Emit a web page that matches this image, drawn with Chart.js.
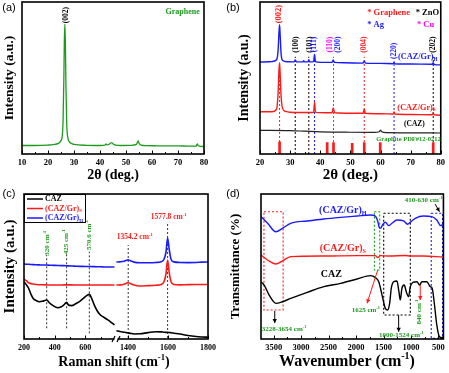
<!DOCTYPE html>
<html><head><meta charset="utf-8">
<script src="https://cdn.jsdelivr.net/npm/chart.js@4.4.1/dist/chart.umd.min.js"></script>
<style>
html,body{margin:0;padding:0;background:#fff;}
body{width:449px;height:373px;position:relative;overflow:hidden;}
canvas{position:absolute;}
</style></head><body>
<canvas id="pa" width="224" height="186" style="left:0;top:0"></canvas>
<canvas id="pb" width="225" height="186" style="left:224px;top:0"></canvas>
<canvas id="pc" width="224" height="187" style="left:0;top:186px"></canvas>
<canvas id="pd" width="225" height="187" style="left:224px;top:186px"></canvas>
<script>
const SERIF='"Liberation Serif","Times New Roman",serif';
const SANS='"Liberation Sans",Arial,sans-serif';
const RED='#ff1a1a', BLUE='#1a1aff', MAG='#ff00ff', GRN='#1c9a1c', BLK='#000000';

// ---------- (a) graphene XRD ----------
const aTheta=[10,15,20,22,24,25,25.5,25.8,26.1,26.3,26.5,26.7,26.9,27.2,27.6,28.2,29,30,35,40,42,42.3,42.7,43.5,44.2,44.6,45.2,46,48,52,54,54.4,54.7,55.1,55.8,58,62,66,70,74,77,77.4,77.8,79,80];
const aIntensity=[5.6,5.6,5.9,6.2,7.0,8.8,12,22,50,76,85.5,72,45,20,11,8,7,6.3,5.7,5.6,5.9,6.6,6.0,6.4,7.3,7.3,6.4,5.9,5.6,5.7,6.3,7.7,8.6,6.8,5.9,5.5,5.4,5.3,5.3,5.2,5.2,6.6,5.4,5.0,4.9];
const aTicks=[10,20,30,40,50,60,70,80];
const aMinor=[15,25,35,45,55,65,75];

// ---------- (b) composites XRD ----------
const bThetaH=[20,24,25.5,26,26.3,26.5,26.7,27,27.5,29,31.3,31.7,32.1,34.3,34.5,34.8,35.9,36.2,36.5,37.8,38.1,38.4,40,43.9,44.3,44.7,48,54.2,54.6,55,60,64.2,64.5,64.8,70,77.2,77.5,77.8,80];
const bIntH=[60.5,60.8,62,68,80,85,78,66,61.5,60.7,60.6,61.8,60.6,60.6,61.3,60.6,60.6,62,60.6,60.8,65.5,60.8,60.3,60.3,61.8,60.3,60,59.8,61.2,59.8,59.6,59.4,60.3,59.4,59.2,59,60,59,58.6];
const bThetaS=[20,24,25.5,26,26.3,26.5,26.7,27,27.5,28.5,30,36,37.8,38.1,38.4,40,43.9,44.3,44.8,50,54.2,54.6,55,60,64.2,64.5,64.8,70,77.2,77.5,77.8,80];
const bIntS=[27.8,27.8,29.5,40,55,60,52,38,30,28,27.5,27.3,27.5,34,27.6,27.2,27.1,30.3,27.1,26.8,26.8,29.4,26.8,26.5,26.3,27.6,26.3,26,25.8,27,25.8,25.5];
const bThetaC=[20,30,35,40,50,58,59.6,60,60.4,62,70,80];
const bIntC=[15.6,15.4,15,14.6,14.3,14.2,14.6,15.8,14.6,14,13.9,13.8];
const bRefPos=[26.5,42.3,44.4,50.6,54.6,59.9,77.5];
const bRefInt=[8,7.5,7.5,7,7.5,7.5,7.5];
const bLinePos=[26.5,31.7,36.2,38.1,44.4,54.6,64.5,77.5];
const bLineTop=[59,64,64,64,64,64,61,64];
const bLineColor=[RED,BLK,BLK,BLUE,MAG,RED,BLUE,BLK];
const bHkl=['(002)','(100)','(101)','(111)','(110)','(200)','(004)','(220)','(202)'];
const bHklColor=[RED,BLK,BLK,BLUE,MAG,BLUE,RED,BLUE,BLK];
const bTicks=[20,30,40,50,60,70,80];
const bMinor=[25,35,45,55,65,75];

// ---------- (c) Raman ----------
const cShiftLow=[200,215,230,245,260,280,300,320,348,365,390,420,440,460,478,490,510,540,570,600,610,626,645,660,680,700,720,740,760,790];
const cCazLow=[39.5,37.5,35,31,28,26.5,25.7,26,26.9,25,23,21.6,22,23.5,25.3,23.4,23,24.5,26.5,29.2,30,30.8,27,23,19,16.4,15,13.6,12.2,9.7];
const cSLow=[41.4,40.2,38.8,38.2,37.9,37.6,37.4,37.4,37.3,37.2,37.2,37.2,37.2,37.3,37.3,37.3,37.3,37.2,37.2,37.2,37.2,37.2,37.2,37.2,37.2,37.2,37.2,37.2,37.2,37.2];
const cHLow=[51.7,51.6,51.5,51.4,51.3,51.2,51.1,51.0,51.0,50.9,50.8,50.7,50.6,50.6,50.5,50.4,50.3,50.2,50.1,50.0,50.0,50.0,49.9,49.9,49.8,49.8,49.7,49.7,49.7,49.7];
const cShiftHigh=[1342,1360,1380,1392,1401,1412,1430,1460,1500,1540,1565,1580,1590,1598,1606,1615,1630,1660,1700,1740,1770,1800];
const cHHigh=[53.1,53.2,53.6,54.3,54.6,54.0,53.0,52.6,52.6,52.8,53.3,55,60,69.7,62,55,53.2,52.8,52.7,52.8,53,53.1];
const cSHigh=[37.2,37.3,37.8,38.5,38.8,38.3,37.2,36.6,36.8,37.1,37.6,39.5,45,54.5,46,39.5,37.6,37.3,37.5,37.6,37.6,37.6];
const cCazHigh=[5.7,5.2,4.7,4.4,4.2,3.9,3.5,3.6,4.4,5,4.9,4.7,4.6,4.6,4.5,4.3,4.0,3.4,2.4,1.7,1.4,1.2];
const cBandLow=[348,478,626], cBandLowTop=[58,59,60.2], cBandLowBot=[7.4,7.4,3.9];
const cBandHigh=[1401,1598], cBandHighTop=[64.8,79.8], cBandHighBot=[0.7,0.7];
const cLegend=['CAZ','(CAZ/Gr)_{S}','(CAZ/Gr)_{H}'];
const cTicksLow=[200,400,600], cMinorLow=[300,500,700];
const cTicksHigh=[1400,1600,1800], cMinorHigh=[1500,1700];

// ---------- (d) FTIR ----------
const dWaveH=[3730,3610,3460,3340,3190,2890,2590,2280,1980,1740,1650,1606,1580,1557,1510,1467,1407,1347,1256,1135,1062,1013,922,772,622,531,459,420];
const dTransH=[84.4,79.8,74,76.3,79.8,81.4,82.8,83.9,84.8,85.5,84.8,81.4,77,76.3,79.1,80.5,78.2,79.8,82.1,81.4,79.1,80.5,83.2,84.8,84.4,82.1,78.2,79.1];
const dWaveS=[3730,3610,3460,3340,3190,2590,1980,1650,1606,1557,1400,1100,1013,772,420];
const dTransS=[57.9,54.5,51.7,53.8,56.8,57.2,57.5,57.5,56.1,57.5,57.2,57.6,57.2,57.2,56.6];
const dWaveC=[3730,3672,3581,3460,3340,3189,2887,2585,2282,1981,1738,1648,1587,1527,1467,1425,1389,1359,1316,1256,1220,1196,1165,1123,1087,1044,1013,965,892,844,802,711,651,615,579,531,483,435,410];
const dTransC=[39.5,37.2,30.3,24.6,25.7,28,32.2,36.1,38.4,41.4,43.7,42.3,39.5,30.3,21.1,20,24.6,35,39.5,40,32.6,26.9,35,37.2,32.6,29.2,36.1,39.1,39.5,37.2,39.5,39.5,36.1,35,25.7,9.7,1.6,0.9,1.6];
const dRegionFrom=[3676,1666,1497,632], dRegionTo=[3327,1570,1013,427];
const dRegionTop=[87.8,87.8,86.7,86.7], dRegionBot=[20,47.6,16.6,0.4];
const dRegionColor=[RED,GRN,BLK,BLUE];
const dTicks=[3500,3000,2500,2000,1500,1000,500];
const dMinor=[3250,2750,2250,1750,1250,750];

// ---------- helpers ----------
function pts(xs,ys){return xs.map((x,i)=>({x:x,y:ys[i]}));}
function curve(label,xs,ys,color,w,axis){
  const d={type:'line',label:label,data:pts(xs,ys),borderColor:color,backgroundColor:color,borderWidth:w,pointRadius:0,fill:false,cubicInterpolationMode:'monotone'};
  if(axis) d.xAxisID=axis; return d;
}
function seg(data,color,w,dash,axis){
  const d={type:'line',data:data,borderColor:color,borderWidth:w,borderDash:dash||[],pointRadius:0,fill:false,tension:0};
  if(axis) d.xAxisID=axis; return d;
}
function parseRich(s){
  const out=[];const re=/([\^_])\{([^}]*)\}/g;let last=0,m;
  while((m=re.exec(s))!==null){
    if(m.index>last) out.push({t:s.slice(last,m.index),m:0});
    out.push({t:m[2],m:m[1]==='^'?1:-1}); last=re.lastIndex;
  }
  if(last<s.length) out.push({t:s.slice(last),m:0});
  return out;
}
function drawRich(ctx,s,x,y,o){
  const size=o.size||8,fam=o.family||SERIF,wt=o.weight||'bold';
  const parts=parseRich(s);
  ctx.save();ctx.translate(x,y);if(o.rot)ctx.rotate(o.rot*Math.PI/180);
  ctx.fillStyle=o.color||BLK;ctx.textBaseline='middle';ctx.textAlign='left';
  let w=0;
  parts.forEach(p=>{ctx.font=wt+' '+(p.m?size*0.62:size)+'px '+fam;p.w=ctx.measureText(p.t).width;w+=p.w;});
  let cx=o.align==='left'?0:(o.align==='right'?-w:-w/2);
  parts.forEach(p=>{ctx.font=wt+' '+(p.m?size*0.62:size)+'px '+fam;ctx.fillText(p.t,cx,p.m===1?-size*0.33:(p.m===-1?size*0.3:0));cx+=p.w;});
  ctx.restore();
}
function arrow(ctx,x0,y0,x1,y1,color){
  ctx.save();ctx.strokeStyle=color;ctx.fillStyle=color;ctx.lineWidth=1;
  ctx.beginPath();ctx.moveTo(x0,y0);ctx.lineTo(x1,y1);ctx.stroke();
  const a=Math.atan2(y1-y0,x1-x0),L=4,W=2.2;
  ctx.beginPath();ctx.moveTo(x1,y1);
  ctx.lineTo(x1-L*Math.cos(a)+W*Math.sin(a),y1-L*Math.sin(a)-W*Math.cos(a));
  ctx.lineTo(x1-L*Math.cos(a)-W*Math.sin(a),y1-L*Math.sin(a)+W*Math.cos(a));
  ctx.closePath();ctx.fill();ctx.restore();
}
function decor(cfg){
  return {id:'decor',afterDatasetsDraw(chart){
    const ctx=chart.ctx,ca=chart.chartArea,ys=chart.scales.y;
    ctx.save();
    ctx.strokeStyle=BLK;ctx.lineWidth=1;
    (cfg.ticks||[]).forEach(t=>{
      const sc=chart.scales[t.axis];ctx.beginPath();
      t.major.forEach(v=>{const px=Math.round(sc.getPixelForValue(v))+0.5;ctx.moveTo(px,ca.bottom);ctx.lineTo(px,ca.bottom-3.5);});
      t.minor.forEach(v=>{const px=Math.round(sc.getPixelForValue(v))+0.5;ctx.moveTo(px,ca.bottom);ctx.lineTo(px,ca.bottom-2);});
      ctx.stroke();
    });
    ctx.lineWidth=1.6;ctx.strokeStyle=BLK;
    ctx.strokeRect(ca.left,ca.top,ca.right-ca.left,ca.bottom-ca.top);
    if(cfg.breakAxis){
      const bx=chart.scales[cfg.breakAxis].right,by=ca.bottom;
      ctx.fillStyle='#fff';ctx.fillRect(bx-1.5,by-2,3,4);
      ctx.lineWidth=1.2;ctx.beginPath();
      ctx.moveTo(bx-4,by+3);ctx.lineTo(bx-1,by-3);
      ctx.moveTo(bx+1,by+3);ctx.lineTo(bx+4,by-3);ctx.stroke();
    }
    (cfg.texts||[]).forEach(t=>{
      const sx=chart.scales[t.xa||'x'];
      const px=t.px!==undefined?t.px:sx.getPixelForValue(t.x);
      const py=t.py!==undefined?t.py:ys.getPixelForValue(t.y);
      drawRich(ctx,t.s,px,py,t);
    });
    (cfg.arrows||[]).forEach(a=>{
      const sx=chart.scales[a.xa||'x'];
      arrow(ctx,sx.getPixelForValue(a.x0),ys.getPixelForValue(a.y0),sx.getPixelForValue(a.x1),ys.getPixelForValue(a.y1),a.color);
    });
    if(cfg.legend){
      const L=cfg.legend,bx=ca.left,by=ca.top;
      ctx.lineWidth=1;ctx.strokeStyle=BLK;ctx.strokeRect(bx+0.5,by+0.5,61,28);
      L.items.forEach((it,i)=>{
        const yy=by+5+i*9.5;
        ctx.strokeStyle=it.color;ctx.lineWidth=1.5;ctx.beginPath();ctx.moveTo(bx+3,yy);ctx.lineTo(bx+19,yy);ctx.stroke();
        drawRich(ctx,it.label,bx+21,yy,{size:8,color:it.color,align:'left'});
      });
    }
    ctx.restore();
  }};
}
function yScale(title,size,pad,width){
  return {type:'linear',min:0,max:100,offset:false,grid:{display:false,drawTicks:false},border:{display:false},ticks:{display:false},
    title:{display:!!title,text:title,color:BLK,font:{family:SERIF,size:size,weight:'bold'},padding:{top:pad,bottom:0}},
    afterFit(s){s.width=width;}};
}
function xScale(o){
  const s={type:'linear',position:'bottom',min:o.min,max:o.max,offset:false,reverse:!!o.reverse,grid:{display:false,drawTicks:false,offset:false},border:{display:false},
    ticks:{color:BLK,font:{family:SERIF,size:o.fs,weight:'bold'},padding:o.tp,maxRotation:0,autoSkip:false,callback:v=>String(v)},
    afterBuildTicks(sc){sc.ticks=o.ticks.map(v=>({value:v}));},
    title:{display:!!o.title,text:o.title||'',color:BLK,font:{family:SERIF,size:o.tfs||14,weight:'bold'},padding:{top:0,bottom:o.tpb||0}},
    afterFit(sc){sc.height=o.h;}};
  if(o.stack){s.stack=o.stack;s.stackWeight=1;}
  return s;
}
function baseOpts(pad,scales){
  return {responsive:false,animation:false,devicePixelRatio:1,events:[],
    layout:{padding:pad},plugins:{legend:{display:false},tooltip:{enabled:false},title:{display:false}},scales:scales};
}
function panelLabel(s){return {s:s,px:9,py:8,size:11,family:SANS,weight:'normal',color:BLK};}

// ---------- chart (a) ----------
new Chart(document.getElementById('pa'),{
  type:'line',
  data:{datasets:[curve('Graphene',aTheta,aIntensity,GRN,1.3)]},
  options:baseOpts({left:0,right:20,top:2,bottom:0},{
    x:xScale({min:10,max:80,ticks:aTicks,fs:8.5,tp:4,h:32,title:'2θ (deg.)',tfs:14,tpb:2.6}),
    y:yScale('Intensity (a.u.)',13.5,1.9,22)}),
  plugins:[decor({ticks:[{axis:'x',major:aTicks,minor:aMinor}],texts:[
    panelLabel('(a)'),
    {s:'(002)',x:26.9,y:91.4,size:7.5,color:BLK,rot:-90},
    {s:'Graphene',x:65.2,y:93.4,size:8,color:GRN,align:'left'}
  ]})]
});

// ---------- chart (b) ----------
const bSets=[
  curve('(CAZ/Gr)H',bThetaH,bIntH,BLUE,1.4),
  curve('(CAZ/Gr)S',bThetaS,bIntS,RED,1.4),
  curve('CAZ',bThetaC,bIntC,'#222',1.2),
  {type:'bar',label:'Graphite PDF#12-0212',data:pts(bRefPos,bRefInt),backgroundColor:RED,borderWidth:0,barThickness:2}
];
bLinePos.forEach((p,i)=>bSets.push(seg([{x:p,y:0},{x:p,y:bLineTop[i]}],bLineColor[i],1,[2,2])));
const bHklX=[26.3,31.9,36.5,38.1,43.4,46.0,54.6,64.5,77.4];
const bHklY=[92,72,72,72,72,72,72,67.8,72];
const bTexts=[panelLabel('(b)')];
bHkl.forEach((h,i)=>bTexts.push({s:h,x:bHklX[i],y:bHklY[i],size:i===0?8.5:7.5,color:bHklColor[i],rot:-90}));
bTexts.push(
  {s:'* Graphene',x:55.6,y:92.8,size:8.5,color:RED,align:'left'},
  {s:'* ZnO',x:71.7,y:92.8,size:8.5,color:BLK,align:'left'},
  {s:'* Ag',x:55.6,y:84.9,size:8.5,color:BLUE,align:'left'},
  {s:'* Cu',x:72.1,y:84.9,size:8.5,color:MAG,align:'left'},
  {s:'(CAZ/Gr)_{H}',x:65.8,y:64,size:8.3,color:BLUE,align:'left'},
  {s:'(CAZ/Gr)_{S}',x:65.6,y:30.6,size:8.3,color:RED,align:'left'},
  {s:'(CAZ)',x:67.8,y:19.9,size:7.5,color:BLK,align:'left'},
  {s:'Graphite PDF#12-0212',x:58.6,y:9.9,size:6.5,color:GRN,align:'left'}
);
new Chart(document.getElementById('pb'),{
  type:'line',
  data:{datasets:bSets},
  options:baseOpts({left:0,right:7,top:2,bottom:0},{
    x:xScale({min:20,max:80,ticks:bTicks,fs:8.5,tp:4,h:32,title:'2θ (deg.)',tfs:15,tpb:2}),
    y:yScale('Intensity (a.u.)',14,11.6,36)}),
  plugins:[decor({ticks:[{axis:'x',major:bTicks,minor:bMinor}],texts:bTexts})]
});

// ---------- chart (c) ----------
const cSets=[
  curve(cLegend[0],cShiftLow,cCazLow,BLK,1.6,'xl'),
  curve(cLegend[1],cShiftLow,cSLow,RED,1.6,'xl'),
  curve(cLegend[2],cShiftLow,cHLow,BLUE,1.6,'xl'),
  curve(cLegend[0],cShiftHigh,cCazHigh,BLK,1.6,'xr'),
  curve(cLegend[1],cShiftHigh,cSHigh,RED,1.6,'xr'),
  curve(cLegend[2],cShiftHigh,cHHigh,BLUE,1.6,'xr')
];
cBandLow.forEach((p,i)=>cSets.push(seg([{x:p,y:cBandLowBot[i]},{x:p,y:cBandLowTop[i]}],'#333',1,[2,2],'xl')));
cBandHigh.forEach((p,i)=>cSets.push(seg([{x:p,y:cBandHighBot[i]},{x:p,y:cBandHighTop[i]}],'#333',1,[2,2],'xr')));
new Chart(document.getElementById('pc'),{
  type:'line',
  data:{datasets:cSets},
  options:baseOpts({left:0,right:16,top:8,bottom:0},{
    xl:xScale({min:200,max:800,ticks:cTicksLow,fs:8,tp:4,h:34,stack:'raman'}),
    xr:xScale({min:1340,max:1800,ticks:cTicksHigh,fs:8,tp:4,h:34,stack:'raman'}),
    y:yScale('Intensity (a.u.)',15,1,24)}),
  plugins:[decor({breakAxis:'xl',
    ticks:[{axis:'xl',major:cTicksLow,minor:cMinorLow},{axis:'xr',major:cTicksHigh,minor:cMinorHigh}],
    legend:{items:[{label:cLegend[0],color:BLK},{label:cLegend[1],color:RED},{label:cLegend[2],color:BLUE}]},
    texts:[panelLabel('(c)'),
      {s:'Raman shift (cm^{-1})',px:114,py:176,size:14,color:BLK},
      {s:'320 cm^{-1}',x:348,y:66,xa:'xl',size:7,color:GRN,rot:-90},
      {s:'425 cm^{-1}',x:478,y:67,xa:'xl',size:7,color:GRN,rot:-90},
      {s:'570.6 cm^{-1}',x:626,y:71.7,xa:'xl',size:7,color:GRN,rot:-90},
      {s:'1354.2 cm^{-1}',x:1434,y:70.1,xa:'xr',size:7.5,color:RED},
      {s:'1577.8 cm^{-1}',x:1603,y:83.9,xa:'xr',size:7.5,color:RED}
    ]})]
});

// ---------- chart (d) ----------
const dSets=[
  curve('(CAZ/Gr)H',dWaveH,dTransH,BLUE,1.4),
  curve('(CAZ/Gr)S',dWaveS,dTransS,RED,1.4),
  curve('CAZ',dWaveC,dTransC,BLK,1.4)
];
dRegionFrom.forEach((f,i)=>{
  const t=dRegionTo[i],a=dRegionTop[i],b=dRegionBot[i];
  dSets.push(seg([{x:f,y:a},{x:t,y:a},{x:t,y:b},{x:f,y:b},{x:f,y:a}],dRegionColor[i],1.1,[2,2]));
});
new Chart(document.getElementById('pd'),{
  type:'line',
  data:{datasets:dSets},
  options:baseOpts({left:0,right:5,top:8,bottom:0},{
    x:xScale({min:410,max:3730,reverse:true,ticks:dTicks,fs:8.5,tp:4,h:34}),
    y:yScale('Transmittance (%)',13,4.2,37)}),
  plugins:[decor({ticks:[{axis:'x',major:dTicks,minor:dMinor}],
    arrows:[
      {x0:3480,y0:19.3,x1:3480,y1:11,color:BLK},
      {x0:1606,y0:47.6,x1:1800,y1:24.6,color:RED},
      {x0:1225,y0:16.6,x1:1225,y1:5,color:BLK},
      {x0:832,y0:37.2,x1:832,y1:26.9,color:RED},
      {x0:560,y0:93,x1:482,y1:87.8,color:BLK}
    ],
    texts:[panelLabel('(d)'),
      {s:'Wavenumber (cm^{-1})',px:123,py:176,size:16,color:BLK},
      {s:'(CAZ/Gr)_{H}',x:2240,y:89,size:10,color:BLUE},
      {s:'(CAZ/Gr)_{S}',x:2240,y:62.8,size:10,color:RED},
      {s:'CAZ',x:2449,y:44.8,size:10,color:BLK},
      {s:'3228-3654 cm^{-1}',x:3310,y:6.9,size:7,color:GRN},
      {s:'1625 cm^{-1}',x:1823,y:20,size:7,color:GRN},
      {s:'1000-1524 cm^{-1}',x:1176,y:2.5,size:7,color:GRN},
      {s:'840 cm^{-1}',x:850,y:18.6,size:7,color:GRN,rot:-90},
      {s:'410-630 cm^{-1}',x:772,y:95.9,size:7,color:GRN}
    ]})]
});
</script></body></html>
